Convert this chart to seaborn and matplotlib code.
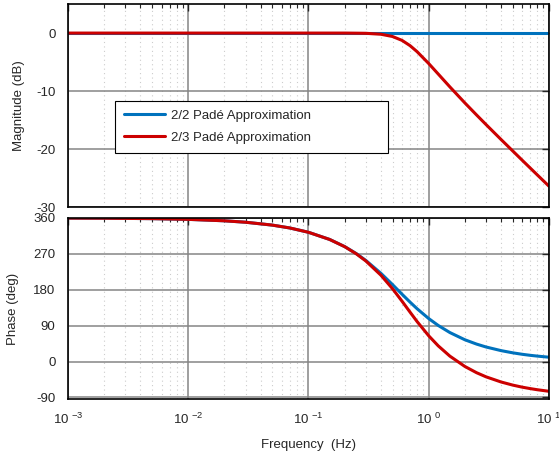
import numpy as np
import pandas as pd
import matplotlib
matplotlib.use("Agg")
import matplotlib.pyplot as plt
import matplotlib.ticker as mticker
import seaborn as sns

# values
freq = [0.001, 0.002, 0.005, 0.01, 0.02, 0.03, 0.05, 0.07, 0.1, 0.15, 0.2, 0.25,
        0.3, 0.4, 0.5, 0.6, 0.7, 0.8, 1.0, 1.2, 1.5, 2.0, 2.5, 3.0, 4.0, 5.0,
        6.0, 7.0, 8.0, 10.0]

mag_22 = [0.0, 0.0, 0.0, 0.0, 0.0, 0.0, 0.0, 0.0, 0.0, 0.0, 0.0, 0.0,
          0.0, 0.0, 0.0, 0.0, 0.0, 0.0, 0.0, 0.0, 0.0, 0.0, 0.0, 0.0, 0.0, 0.0,
          0.0, 0.0, 0.0, 0.0]
mag_23 = [0.0, 0.0, 0.0, 0.0, 0.0, 0.0, 0.0, 0.0, 0.0, 0.0, 0.0, -0.02,
          -0.04, -0.2, -0.59, -1.26, -2.17, -3.2, -5.25, -7.06, -9.28, -12.05, -14.12, -15.78, -18.36, -20.33,
          -21.94, -23.29, -24.46, -26.4]

phase_22 = [359.6, 359.3, 358.2, 356.4, 352.8, 349.2, 342.0, 334.8, 324.0, 306.1, 288.2, 270.6,
            253.5, 221.3, 192.9, 168.8, 148.9, 132.5, 107.8, 90.5, 72.7, 54.6, 43.8, 36.5, 27.4, 21.9,
            18.2, 15.6, 13.7, 10.9]
phase_23 = [359.6, 359.3, 358.2, 356.4, 352.8, 349.2, 342.0, 334.8, 324.0, 306.0, 288.0, 270.0,
            252.1, 216.6, 182.6, 151.3, 123.8, 100.4, 64.6, 39.4, 13.6, -12.3, -27.9, -38.3, -51.2, -59.0,
            -64.2, -67.8, -70.6, -74.5]

names = ["2/2 Padé Approximation", "2/3 Padé Approximation"]
colors = ["#0072BD", "#CC0000"]

df = pd.DataFrame({
    "freq": freq * 2,
    "mag": mag_22 + mag_23,
    "phase": phase_22 + phase_23,
    "series": [names[0]] * len(freq) + [names[1]] * len(freq),
})

sns.set_style("white")
plt.rcParams["font.family"] = ["Liberation Sans", "DejaVu Sans"]
plt.rcParams["mathtext.fontset"] = "custom"
plt.rcParams["mathtext.rm"] = "Liberation Sans"
plt.rcParams["axes.unicode_minus"] = False

fig = plt.figure(figsize=(5.59, 4.54), dpi=100)
ax1 = fig.add_axes([0.1216, 0.544, 0.8604, 0.447])
ax2 = fig.add_axes([0.1216, 0.121, 0.8604, 0.399])

pal = dict(zip(names, colors))
sns.lineplot(data=df, x="freq", y="mag", hue="series", palette=pal, lw=2.2, ax=ax1)
sns.lineplot(data=df, x="freq", y="phase", hue="series", palette=pal, lw=2.2, ax=ax2, legend=False)

def style(ax):
    ax.set_xscale("log")
    ax.set_xlim(1e-3, 10)
    ax.xaxis.set_minor_locator(mticker.LogLocator(base=10, subs=np.arange(2, 10)))
    ax.grid(True, which="major", color="#858585", lw=1.1)
    ax.grid(True, which="minor", axis="x", color="#cccccc", lw=0.8, ls=(0, (1, 3)))
    ax.tick_params(which="both", direction="in", top=True, right=True, labelsize=9.5)
    ax.tick_params(which="major", length=5, width=1)
    ax.tick_params(which="minor", length=3, width=0.8)
    ax.tick_params(axis="y", pad=9)
    for s in ax.spines.values():
        s.set_color("black")
        s.set_linewidth(1.2)
    ax.set_axisbelow(True)

style(ax1)
style(ax2)

ax1.set_ylim(-30, 5)
ax1.set_yticks([0, -10, -20, -30])
ax1.set_xticklabels([])
ax1.set_xlabel("")
ax1.set_ylabel("Magnitude (dB)", fontsize=9.5, labelpad=8)

ax2.set_ylim(-94, 360)
ax2.set_yticks([-90, 0, 90, 180, 270, 360])
ax2.set_xticks([1e-3, 1e-2, 1e-1, 1, 10])
ax2.set_xticklabels(["10 $^{-3}$", "10 $^{-2}$", "10 $^{-1}$", "10 $^{0}$", "10 $^{1}$"])
ax2.tick_params(axis="x", pad=9)
ax2.set_xlabel("Frequency  (Hz)", fontsize=9.5, labelpad=9)
ax2.set_ylabel("Phase (deg)", fontsize=9.5, labelpad=10)

leg = ax1.legend(loc="upper left", bbox_to_anchor=(0.098, 0.271, 0.567, 0.251), mode="expand",
                 borderaxespad=0, fontsize=9.5, frameon=True, fancybox=False, edgecolor="black",
                 framealpha=1, handlelength=3.1, handletextpad=0.5, borderpad=0.65, labelspacing=0.75)
leg.get_frame().set_linewidth(0.8)

fig.savefig("out.png", dpi=100)
